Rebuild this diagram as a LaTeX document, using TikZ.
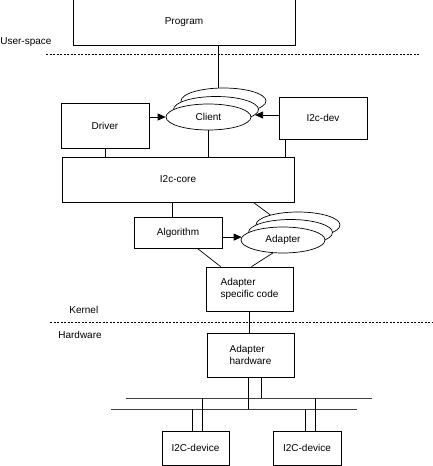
\documentclass[tikz,border=0pt]{standalone}
\usepackage{fontspec}
\setmainfont{Liberation Sans}
\usetikzlibrary{arrows.meta, shapes.geometric}

\begin{document}
\begin{tikzpicture}[x=1pt, y=-1pt, >={Triangle[length=8pt, width=7pt]}, line width=0.7pt,
  font=\fontsize{10}{12}\selectfont,
  B/.style={draw, fill=white, inner sep=0pt, align=left},
  E/.style={draw, fill=white, ellipse, inner sep=0pt, minimum width=85pt, minimum height=26pt},
  sepline/.style={dash pattern=on 2pt off 1.5pt, line width=0.6pt},
  bus/.style={draw=black!75, line width=0.8pt}]

\useasboundingbox (0,0) rectangle (432,466);

% user-space
\node[B, minimum width=222pt, minimum height=46pt] (prog) at (184,22) {Program};
\node[anchor=west, inner sep=0pt] (luser) at (0,42) {User-space};
\draw[sepline] (46,54) -- (419,54);

% kernel: clients and i2c-core
\node[E] (client3) at (223.5,101) {};
\node[E] (client2) at (216,109.5) {};
\node[E] (client)  at (208.5,117) {Client};
\node[B, minimum width=88pt, minimum height=45pt] (drv)    at (105,125.5) {Driver};
\node[B, minimum width=88pt, minimum height=42pt] (i2cdev) at (323,118)   {I2c-dev};
\node[B, minimum width=232pt, minimum height=45pt] (core)  at (178,179.5) {I2c-core};

\draw (client3.113) -- (client3.113 |- prog.south);
\draw[->] (client.west -| drv.east) -- (client.west);
\draw[->] (client2.-8 -| i2cdev.west) -- (client2.-8);
\draw (client.south) -- (client.south |- core.north);
\draw (drv.south) -- (drv.south |- core.north);
\draw ([xshift=7pt]i2cdev.south west) -- ([xshift=7pt]i2cdev.south west |- core.north);

% kernel: algorithm and adapters
\node[B, minimum width=88pt, minimum height=31pt] (algo) at (178,232.5) {Algorithm};
\node[E, minimum width=84pt] (adap3) at (298,225) {};
\node[E, minimum width=84pt] (adap2) at (290.5,232.5) {};
\node[E, minimum width=84pt] (adap)  at (283,240) {Adapter};
\node[B, minimum width=87pt, minimum height=44pt] (asc) at (249.5,289) {Adapter\\specific code};

\draw ([xshift=-6pt]algo.north) -- ([xshift=-6pt]algo.north |- core.south);
\draw ([xshift=-41pt]core.south east) -- (adap3.160);
\draw[->] (adap.176 -| algo.east) -- (adap.176);
\draw ([xshift=-25pt]algo.south east) -- ([xshift=15pt]asc.north west);
\draw (adap.232) -- ([xshift=2pt]asc.north);

\node[anchor=west, inner sep=0pt] (lkernel) at (69,310) {Kernel};
\draw[sepline] (50,322) -- (432,322);
\node[anchor=west, inner sep=0pt] (lhw) at (58,335) {Hardware};

% hardware
\node[B, minimum width=87pt, minimum height=44pt] (ahw) at (250.5,355) {Adapter\\hardware};
\draw (asc.south) -- (asc.south |- ahw.north);

\coordinate (bus1l) at (126,398);
\coordinate (bus1r) at (372,398);
\coordinate (bus2l) at (111,409);
\coordinate (bus2r) at (357,409);
\draw[bus] (bus1l) -- (bus1r);
\draw[bus] (bus2l) -- (bus2r);

\node[B, minimum width=67pt, minimum height=34pt] (dev1) at (195.5,448) {I2C-device};
\node[B, minimum width=68pt, minimum height=34pt] (dev2) at (307,448)   {I2C-device};

\draw ([xshift=-2.5pt]ahw.south) -- ([xshift=-2.5pt]ahw.south |- bus2l);
\draw ([xshift=10.5pt]ahw.south) -- ([xshift=10.5pt]ahw.south |- bus1l);
\draw ([xshift=-3.5pt]dev1.north) -- ([xshift=-3.5pt]dev1.north |- bus2l);
\draw ([xshift=6.5pt]dev1.north) -- ([xshift=6.5pt]dev1.north |- bus1l);
\draw ([xshift=-2pt]dev2.north) -- ([xshift=-2pt]dev2.north |- bus2l);
\draw ([xshift=8pt]dev2.north) -- ([xshift=8pt]dev2.north |- bus1l);

\end{tikzpicture}
\end{document}
